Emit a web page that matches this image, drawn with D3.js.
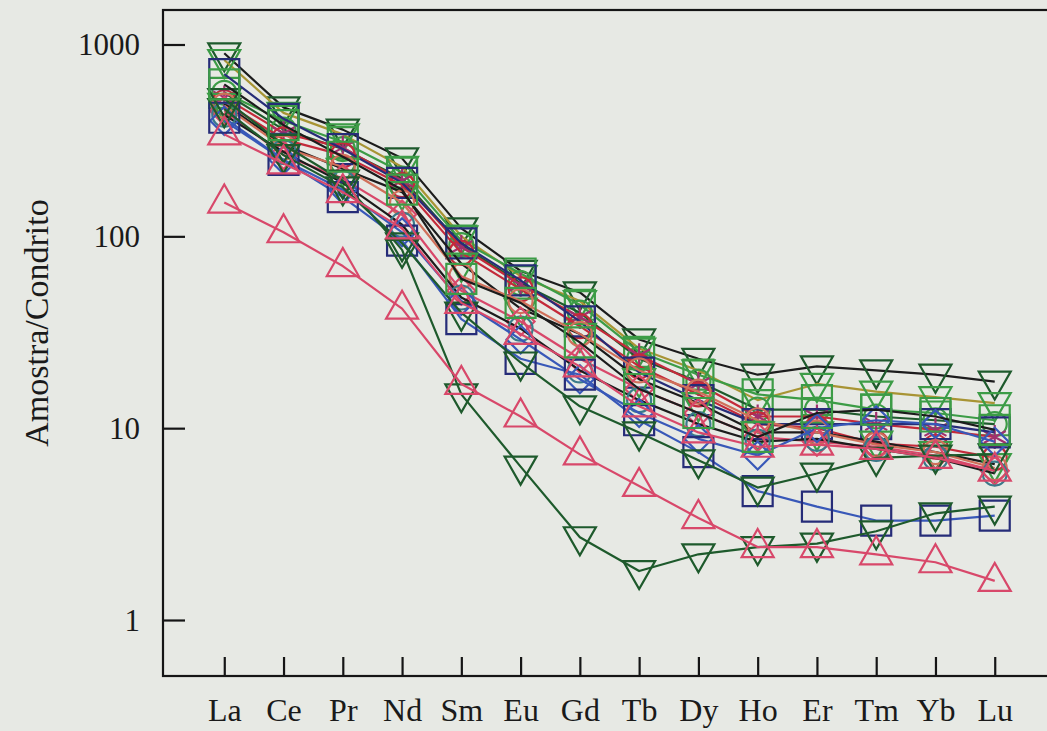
<!DOCTYPE html>
<html>
<head>
<meta charset="utf-8">
<script src="https://cdn.jsdelivr.net/npm/d3@7"></script>
<style>
  html, body { margin: 0; padding: 0; background: #e7e9e4; }
  svg { display: block; }
  text { font-family: "Liberation Serif", "DejaVu Serif", serif; fill: #1a1a1a; }
</style>
</head>
<body>
<div id="chart"></div>
<script>
let svgWidth = 1047;
let svgHeight = 731;

// REE, chondrite normalised
let elements = ["La", "Ce", "Pr", "Nd", "Sm", "Eu", "Gd", "Tb", "Dy", "Ho", "Er", "Tm", "Yb", "Lu"];
let yTicks = [1, 10, 100, 1000];

let s01 = [900, 470, 360, 255, 110, 66, 51, 29, 23, 19, 21, 20, 19, 17.5];
let s02 = [830, 440, 340, 230, 100, 62, 46, 26, 20, 14, 17, 15.5, 14.5, 13.5];
let s03 = [560, 400, 310, 215, 95, 64, 44, 25, 19, 15, 14, 12.5, 12, 11];
let s04 = [560, 360, 285, 200, 90, 57, 40, 23, 17.5, 12.5, 12.5, 11.5, 11, 10.5];
let s05 = [530, 345, 290, 195, 88, 56, 38, 24, 17, 11.5, 11.5, 10.5, 9.8, 9];
let s06 = [500, 320, 265, 185, 82, 53, 34, 21, 15, 10.5, 10, 8.3, 8, 7];
let s07 = [700, 410, 285, 190, 92, 59, 36, 19.5, 14, 10.5, 10.5, 10.5, 10.5, 9.5];
let s08 = [490, 300, 225, 170, 72, 42, 31, 18, 13.5, 9.5, 9.5, 8.5, 7.5, 6.5];
let s09 = [480, 290, 230, 150, 62, 46, 31, 20, 15.5, 11, 9.5, 8.2, 7.5, 6.2];
let s10 = [450, 265, 200, 130, 52, 36, 23, 16, 12, 9, 8.5, 8, 7.2, 6];
let s11 = [430, 275, 190, 115, 48, 33, 20, 14, 10.5, 8.5, 8.8, 7.8, 7, 5.8];
let s12 = [400, 250, 175, 105, 46, 29, 18, 12, 8.8, 7.2, 10, 11, 10.5, 8.5];
let s13 = [415, 250, 160, 95, 37, 23, 19, 11, 7.5, 4.7, 3.9, 3.3, 3.3, 3.5];
let s14 = [460, 265, 180, 92, 40, 22, 13, 9.5, 6.8, 4.9, 5.8, 7, 7.2, 7.3];
let s15 = [520, 300, 195, 85, 15, 6.3, 2.7, 1.8, 2.2, 2.4, 2.5, 2.9, 3.6, 3.9];
let s16 = [150, 105, 70, 42, 17, 11.5, 7.3, 5, 3.4, 2.4, 2.4, 2.2, 2.0, 1.6];
let s17 = [340, 240, 170, 110, 45, 31, 21, 13, 9.5, 8, 8.2, 7.8, 7, 6];
let s18 = [620, 380, 260, 175, 60, 45, 28, 16, 12, 9, 12, 12.5, 11.5, 9.8];

let samples = [s01, s02, s03, s04, s05, s06, s07, s08, s09, s10, s11, s12, s13, s14, s15, s16, s17, s18];

// styles per sample
let symbols = ["triDown", "triDown", "square", "circle", "asterisk", "circle", "square", "triDown", "circle",
  "diamond", "circle", "diamond", "square", "triDown", "triDown", "triUp", "triUp", "square"];
let markerColors = ["#1e5a2c", "#3c9c46", "#3c9c46", "#3c9c46", "#a0306e", "#c42a3a", "#262c78", "#3c9c46", "#d0705a",
  "#d8486a", "#3a7a8a", "#3858b8", "#262c78", "#1e5a2c", "#1e5a2c", "#d8486a", "#d8486a", "#3c9c46"];
let lineColors = ["#1c1c1c", "#a89434", "#3c9c46", "#1e5a2c", "#c42a3a", "#c42a3a", "#262c78", "#1c1c1c", "#d0705a",
  "#d8486a", "#1c1c1c", "#3858b8", "#3858b8", "#1e5a2c", "#1e5a2c", "#d8486a", "#d8486a", "#1c1c1c"];

let plot = { left: 163, top: 10, right: 1060, bottom: 676 };

let svg = d3.select("#chart")
  .append("svg")
  .attr("width", svgWidth)
  .attr("height", svgHeight);

let x = d3.scalePoint()
  .domain(elements)
  .range([165, 1054])
  .padding(1);

let y = d3.scaleLog()
  .domain([1, 1000])
  .range([620, 44.5]);

// frame
svg.append("rect")
  .attr("x", plot.left)
  .attr("y", plot.top)
  .attr("width", plot.right - plot.left)
  .attr("height", plot.bottom - plot.top)
  .attr("fill", "none")
  .attr("stroke", "#151515")
  .attr("stroke-width", 2.2);

let leftAxis = d3.axisRight(y)
  .tickValues(yTicks)
  .tickFormat(d3.format("d"))
  .tickSize(22)
  .tickPadding(0);

let yAxisG = svg.append("g")
  .attr("transform", `translate(${plot.left}, 0)`)
  .call(leftAxis);
yAxisG.select(".domain").remove();
yAxisG.selectAll("line").attr("stroke", "#151515").attr("stroke-width", 2.2);
yAxisG.selectAll("text")
  .attr("x", -23)
  .attr("dy", "0.33em")
  .attr("text-anchor", "end")
  .attr("font-size", 31)
  .attr("fill", "#1a1a1a");

let bottomAxis = d3.axisTop(x)
  .tickSize(19)
  .tickPadding(0);

let xAxisG = svg.append("g")
  .attr("transform", `translate(0, ${plot.bottom})`)
  .call(bottomAxis);
xAxisG.select(".domain").remove();
xAxisG.selectAll("line").attr("stroke", "#151515").attr("stroke-width", 2.2);
xAxisG.selectAll("text")
  .attr("y", 45)
  .attr("dy", 0)
  .attr("font-size", 32)
  .attr("fill", "#1a1a1a");

svg.append("text")
  .attr("transform", `translate(48, 323) rotate(-90)`)
  .attr("text-anchor", "middle")
  .attr("font-size", 34)
  .text("Amostra/Condrito");

function symbolPath(type) {
  if (type === "square") {
    return "M-15,-15H15V15H-15Z";
  }
  if (type === "triDown") {
    return "M-16,-10H16L0,18Z";
  }
  if (type === "triUp") {
    return "M-16,10H16L0,-18Z";
  }
  if (type === "diamond") {
    return "M0,-14L14,0L0,14L-14,0Z";
  }
  if (type === "asterisk") {
    return "M0,-12V12M-11,-6L11,6M-11,6L11,-6";
  }
  return d3.symbol().type(d3.symbolCircle).size(Math.PI * 12 * 12)();
}

let line = d3.line()
  .x((d, i) => x(elements[i]))
  .y(d => y(d));

samples.forEach(function(values, k) {
  let g = svg.append("g");

  g.append("path")
    .datum(values)
    .attr("d", line)
    .attr("fill", "none")
    .attr("stroke", lineColors[k])
    .attr("stroke-width", 2.2)
    .attr("stroke-linejoin", "round");

  g.selectAll(".pt")
    .data(values)
    .enter()
    .append("path")
    .attr("class", "pt")
    .attr("d", symbolPath(symbols[k]))
    .attr("transform", (d, i) => `translate(${x(elements[i])}, ${y(d)})`)
    .attr("fill", "none")
    .attr("stroke", markerColors[k])
    .attr("stroke-width", 2.2);
});
</script>
</body>
</html>
